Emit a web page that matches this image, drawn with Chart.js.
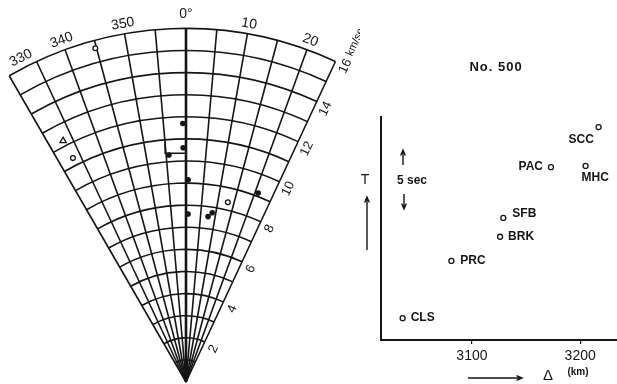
<!DOCTYPE html>
<html>
<head>
<meta charset="utf-8">
<script src="https://cdn.jsdelivr.net/npm/chart.js@4"></script>
<style>
  body { margin: 0; background: #fff; width: 617px; height: 384px; overflow: hidden; position: relative; }
  canvas { position: absolute; top: 0; }
  #fan { left: 0; }
  #plot { left: 340px; }
</style>
</head>
<body>
<canvas id="fan" width="360" height="384"></canvas>
<canvas id="plot" width="277" height="384"></canvas>
<script>
"use strict";

/*--------------------------------------
    data
--------------------------------------*/

// fan: apparent velocity (km/sec) and azimuth (deg, 0 = north)
var dotSpeed = [11.7, 10.6, 10.3, 9.15, 9.15, 7.6, 7.55, 7.75];
var dotAzimuth = [-0.7, -0.7, -4.3, 0.6, 20.9, 0.7, 7.6, 8.8];
var ringSpeed = [8.35, 11.35, 15.65];
var ringAzimuth = [13.1, -26.8, -15.2];
var triSpeed = [12.25];
var triAzimuth = [-27.0];

var speedRings = [1, 2, 3, 4, 5, 6, 7, 8, 9, 10, 11, 12, 13, 14, 15, 16];
var speedLabels = [2, 4, 6, 8, 10, 12, 14];
var spokeAngles = [-30, -25, -20, -15, -10, -5, 0, 5, 10, 15, 20, 25];
var azimuthTicks = [-30, -20, -10, 0, 10, 20];
var azimuthLabels = ['330', '340', '350', '0°', '10', '20'];

// travel time plot: epicentral distance (km) vs T (sec, relative)
var stations = ['SCC', 'PAC', 'MHC', 'SFB', 'BRK', 'PRC', 'CLS'];
var distanceKm = [3217, 3173, 3205, 3129, 3126, 3081, 3036];
var travelTime = [18.05, 14.65, 14.75, 10.35, 8.75, 6.7, 1.85];
var distanceTicks = [3100, 3200];

/*--------------------------------------
    helpers
--------------------------------------*/

var INK = '#151515';
var FONT = '"Liberation Sans", Arial, sans-serif';
var RAD = Math.PI / 180;

function toXY(speed, azimuth) {
  return speed.map(function (v, i) {
    return { x: v * Math.sin(azimuth[i] * RAD), y: v * Math.cos(azimuth[i] * RAD) };
  });
}

function arrow(ctx, x1, y1, x2, y2) {
  var a = Math.atan2(y2 - y1, x2 - x1), h = 6;
  ctx.beginPath();
  ctx.moveTo(x1, y1);
  ctx.lineTo(x2, y2);
  ctx.moveTo(x2 - h * Math.cos(a - 0.4), y2 - h * Math.sin(a - 0.4));
  ctx.lineTo(x2, y2);
  ctx.lineTo(x2 - h * Math.cos(a + 0.4), y2 - h * Math.sin(a + 0.4));
  ctx.stroke();
}

/*--------------------------------------
    fan diagram
--------------------------------------*/

var UNIT = 22.1;          // px per km/sec
var APEX_X = 186, APEX_Y = 382;

var fanGrid = {
  id: 'fanGrid',
  beforeDatasetsDraw: function (chart) {
    var ctx = chart.ctx, sx = chart.scales.x, sy = chart.scales.y;
    var ox = sx.getPixelForValue(0), oy = sy.getPixelForValue(0);
    var unit = sx.getPixelForValue(1) - ox;
    var a0 = spokeAngles[0], a1 = spokeAngles[spokeAngles.length - 1];
    var rMax = speedRings[speedRings.length - 1] * unit;

    ctx.save();
    ctx.strokeStyle = INK;
    ctx.lineWidth = 1.6;
    speedRings.forEach(function (v) {
      ctx.beginPath();
      ctx.arc(ox, oy, v * unit, (a0 - 90) * RAD, (a1 - 90) * RAD);
      ctx.stroke();
    });
    spokeAngles.forEach(function (a) {
      ctx.lineWidth = a === 0 ? 2.6 : 1.6;
      ctx.beginPath();
      ctx.moveTo(ox, oy);
      ctx.lineTo(ox + Math.sin(a * RAD) * rMax, oy - Math.cos(a * RAD) * rMax);
      ctx.stroke();
    });

    // error bracket around the 10.6 km/sec arrival
    ctx.lineWidth = 1.3;
    ctx.beginPath();
    ctx.moveTo(sx.getPixelForValue(-0.95), sy.getPixelForValue(10.85));
    ctx.lineTo(sx.getPixelForValue(-0.95), sy.getPixelForValue(10.35));
    ctx.lineTo(sx.getPixelForValue(0), sy.getPixelForValue(10.35));
    ctx.lineTo(sx.getPixelForValue(0), sy.getPixelForValue(10.85));
    ctx.stroke();

    // azimuth labels along the outer arc
    ctx.fillStyle = INK;
    ctx.textAlign = 'center';
    ctx.textBaseline = 'middle';
    ctx.font = '14px ' + FONT;
    azimuthTicks.forEach(function (deg, i) {
      var a = Math.max(deg, a0 + 3) * RAD;
      var r = rMax + (deg === 0 ? 14 : 10);
      ctx.save();
      ctx.translate(ox + Math.sin(a) * r, oy - Math.cos(a) * r);
      ctx.rotate(a);
      ctx.fillText(azimuthLabels[i], 0, 0);
      ctx.restore();
    });

    // velocity labels along the right edge
    var e = a1 * RAD;
    var nx = Math.cos(e), ny = Math.sin(e);
    ctx.font = '13px ' + FONT;
    speedLabels.forEach(function (v) {
      var r = (v - 0.12) * unit;
      ctx.save();
      ctx.translate(ox + Math.sin(e) * r + nx * 11, oy - Math.cos(e) * r + ny * 11);
      ctx.rotate((a1 - 90) * RAD);
      ctx.fillText(String(v), 0, 0);
      ctx.restore();
    });
    var top = speedRings[speedRings.length - 1];
    ctx.save();
    ctx.translate(ox + Math.sin(e) * rMax + nx * 11, oy - Math.cos(e) * rMax + ny * 11);
    ctx.rotate((a1 - 90) * RAD);
    ctx.textAlign = 'left';
    var w = ctx.measureText(String(top)).width;
    ctx.fillText(String(top), -w / 2, 0);
    ctx.font = '11px ' + FONT;
    ctx.fillText('km/sec', w / 2 + 4, -1);
    ctx.restore();
    ctx.restore();
  }
};

var fanCanvas = document.getElementById('fan');
new Chart(fanCanvas, {
  type: 'scatter',
  data: {
    datasets: [{
      data: toXY(dotSpeed, dotAzimuth),
      pointStyle: 'circle',
      pointRadius: 2.8,
      borderWidth: 0,
      backgroundColor: INK
    }, {
      data: toXY(ringSpeed, ringAzimuth),
      pointStyle: 'circle',
      pointRadius: 2.4,
      borderWidth: 1.3,
      borderColor: INK,
      backgroundColor: '#fff'
    }, {
      data: toXY(triSpeed, triAzimuth),
      pointStyle: 'triangle',
      pointRadius: 3.6,
      borderWidth: 1.3,
      borderColor: INK,
      backgroundColor: '#fff'
    }]
  },
  options: {
    responsive: false,
    animation: false,
    events: [],
    layout: { padding: 0, autoPadding: false },
    plugins: { legend: { display: false }, tooltip: { enabled: false } },
    scales: {
      x: { type: 'linear', display: false, min: -APEX_X / UNIT, max: (fanCanvas.width - APEX_X) / UNIT },
      y: { type: 'linear', display: false, min: -(fanCanvas.height - APEX_Y) / UNIT, max: APEX_Y / UNIT }
    }
  },
  plugins: [fanGrid]
});

/*--------------------------------------
    travel time plot
--------------------------------------*/

// label offset from the marker: dx, dy, align
var labelPlace = {
  SCC: [-30, 13, 'left'],
  PAC: [-8, 0, 'right'],
  MHC: [-4, 12, 'left'],
  SFB: [9, -4, 'left'],
  BRK: [8, 0, 'left'],
  PRC: [9, 0, 'left'],
  CLS: [8, 0, 'left']
};
var barMid = 13.6, barSpan = 5;   // the "5 sec" scale bar

var plotNotes = {
  id: 'plotNotes',
  afterDatasetsDraw: function (chart) {
    var ctx = chart.ctx, sx = chart.scales.x, sy = chart.scales.y;
    ctx.save();
    ctx.fillStyle = INK;
    ctx.strokeStyle = INK;
    ctx.lineWidth = 1.4;
    ctx.textBaseline = 'middle';

    ctx.font = 'bold 12px ' + FONT;
    stations.forEach(function (s, i) {
      var p = labelPlace[s];
      ctx.textAlign = p[2];
      ctx.fillText(s, sx.getPixelForValue(distanceKm[i]) + p[0], sy.getPixelForValue(travelTime[i]) + p[1]);
    });

    ctx.textAlign = 'center';
    ctx.font = 'bold 13px ' + FONT;
    ctx.letterSpacing = '1px';
    ctx.fillText('No. 500', 156, 67);
    ctx.letterSpacing = '0px';

    // T axis label with arrow
    ctx.font = '14px ' + FONT;
    ctx.fillText('T', 25, 180);
    arrow(ctx, 27, 250, 27, 197);

    // 5 sec scale bar
    var yTop = sy.getPixelForValue(barMid + barSpan / 2);
    var yBot = sy.getPixelForValue(barMid - barSpan / 2);
    var yMid = sy.getPixelForValue(barMid);
    ctx.font = 'bold 12px ' + FONT;
    ctx.fillText('5 sec', 72, yMid + 1);
    arrow(ctx, 63, yTop + 15, 63, yTop);
    arrow(ctx, 64, yBot - 15, 64, yBot);

    // distance axis label
    arrow(ctx, 128, 378, 182, 378);
    ctx.font = '15px ' + FONT;
    ctx.fillText('Δ', 208, 376);
    ctx.font = 'bold 10px ' + FONT;
    ctx.fillText('(km)', 238, 372);
    ctx.restore();
  }
};

new Chart(document.getElementById('plot'), {
  type: 'scatter',
  data: {
    datasets: [{
      data: distanceKm.map(function (d, i) { return { x: d, y: travelTime[i] }; }),
      pointStyle: 'circle',
      pointRadius: 2.5,
      borderWidth: 1.3,
      borderColor: INK,
      backgroundColor: '#fff'
    }]
  },
  options: {
    responsive: false,
    animation: false,
    events: [],
    layout: { padding: { left: 41, top: 117, right: 0, bottom: 20 }, autoPadding: false },
    plugins: { legend: { display: false }, tooltip: { enabled: false } },
    scales: {
      x: {
        type: 'linear', min: 3016, max: 3234,
        afterBuildTicks: function (s) { s.ticks = distanceTicks.map(function (v) { return { value: v }; }); },
        afterFit: function (s) { s.paddingLeft = 0; s.paddingRight = 0; s.height = 24; },
        grid: { drawOnChartArea: false, drawTicks: true, tickLength: 4, color: INK, lineWidth: 1.2 },
        border: { color: INK, width: 2 },
        ticks: {
          color: INK, font: { family: FONT, size: 14 }, padding: 4, maxRotation: 0,
          callback: function (v) { return String(v); }
        }
      },
      y: {
        type: 'linear', min: 0, max: 18.9,
        afterFit: function (s) { s.width = 0; s.paddingTop = 0; s.paddingBottom = 0; },
        grid: { display: false, drawTicks: false },
        border: { color: INK, width: 2 },
        ticks: { display: false }
      }
    }
  },
  plugins: [plotNotes]
});
</script>
</body>
</html>
